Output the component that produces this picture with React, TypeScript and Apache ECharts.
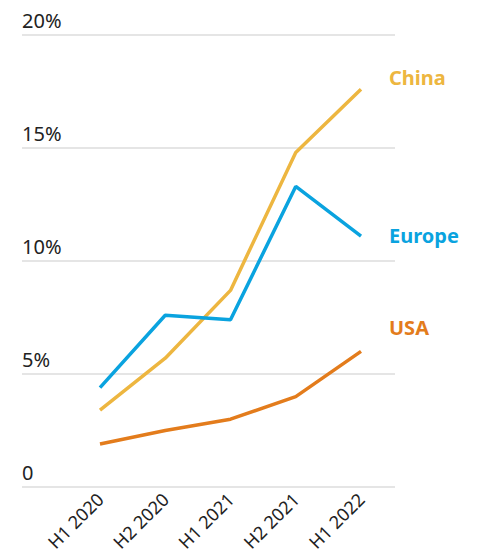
import React, { useEffect, useRef } from "react";
import * as echarts from "echarts";

const categories = ["H1 2020", "H2 2020", "H1 2021", "H2 2021", "H1 2022"];
const china = [3.4, 5.7, 8.7, 14.8, 17.6];
const europe = [4.4, 7.6, 7.4, 13.3, 11.1];
const usa = [1.9, 2.5, 3.0, 4.0, 6.0];
const yTicks = [0, 5, 10, 15, 20];

const FONT = "'Source Sans Pro', 'Noto Sans', sans-serif";

export default function App() {
  const ref = useRef<HTMLDivElement>(null);
  useEffect(() => {
    const chart = echarts.init(ref.current!, undefined, { renderer: "svg" });
    const mk = (name: string, data: number[], color: string, offset: number[]) => ({
      type: "line",
      name,
      data,
      xAxisIndex: 0,
      yAxisIndex: 0,
      symbol: "none",
      lineStyle: { color, width: 3.5 },
      itemStyle: { color },
      endLabel: {
        show: true,
        formatter: name,
        color,
        fontFamily: FONT,
        fontSize: 20,
        fontWeight: "bold",
        offset,
      },
    });
    chart.setOption({
      animation: false,
      textStyle: { fontFamily: FONT },
      grid: [
        { left: 100, right: 119, top: 35, bottom: 68, outerBoundsMode: "none", containLabel: false },
        { left: 22, right: 85, top: 35, bottom: 68, outerBoundsMode: "none", containLabel: false },
      ],
      xAxis: [
        {
          type: "category",
          gridIndex: 0,
          data: categories,
          boundaryGap: false,
          axisLine: { show: false },
          axisTick: { show: false },
          axisLabel: { rotate: 45, margin: 9, fontSize: 18, color: "#222", fontFamily: FONT },
        },
        { type: "value", gridIndex: 1, show: false },
      ],
      yAxis: [
        { type: "value", gridIndex: 0, min: 0, max: 20, interval: 5, show: false },
        {
          type: "value",
          gridIndex: 1,
          min: yTicks[0],
          max: yTicks[yTicks.length - 1],
          interval: 5,
          axisLine: { show: false },
          axisTick: { show: false },
          splitLine: { lineStyle: { color: "#dcdcdc", width: 1.5 } },
          axisLabel: {
            inside: true,
            margin: 0,
            verticalAlign: "bottom",
            padding: [0, 0, 5, 0],
            fontSize: 20,
            color: "#222",
            fontFamily: FONT,
            formatter: (v: number) => (v === 0 ? "0" : v + "%"),
          },
        },
      ],
      series: [
        mk("China", china, "#EDB640", [20, -12]),
        mk("Europe", europe, "#0AA3DF", [20, -1]),
        mk("USA", usa, "#E37C1C", [20, -24]),
      ],
    });
    return () => chart.dispose();
  }, []);
  return (
    <div
      ref={ref}
      style={{ position: "fixed", left: 0, top: 0, width: 480, height: 555, background: "#fff" }}
    />
  );
}
